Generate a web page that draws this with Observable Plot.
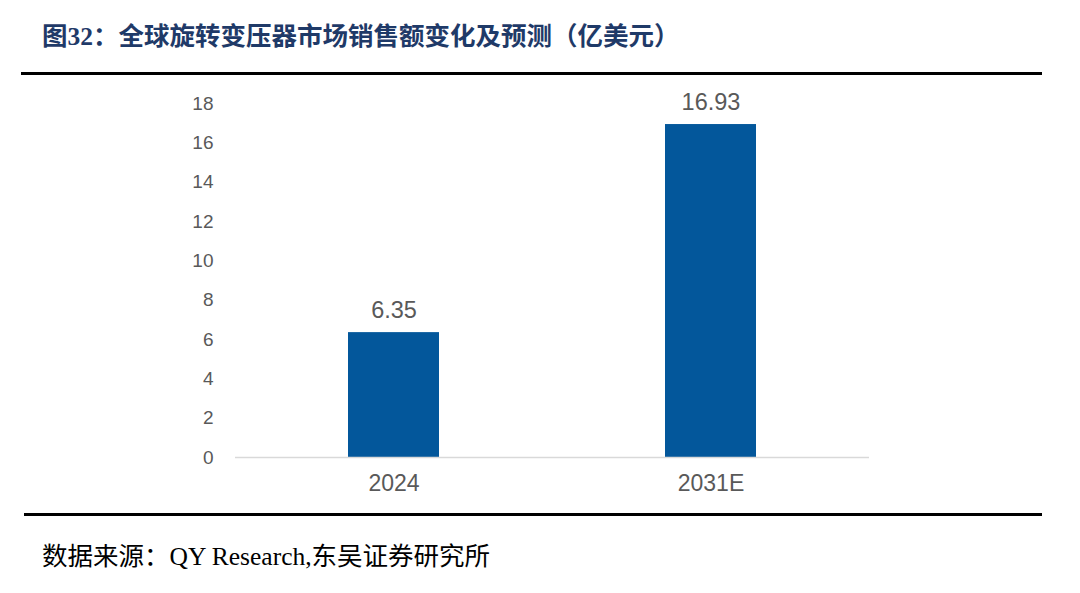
<!DOCTYPE html>
<html>
<head>
<meta charset="utf-8">
<script src="https://cdn.jsdelivr.net/npm/d3@7"></script>
<script src="https://cdn.jsdelivr.net/npm/@observablehq/plot@0.6"></script>
<style>
  html, body { margin: 0; padding: 0; background: #fff; }
  #page { position: relative; width: 1080px; height: 593px; overflow: hidden; background: #fff; }
  #title { position: absolute; left: 42px; top: 21px; font-family: "Liberation Serif", "Noto Sans CJK SC", serif; font-weight: bold; font-size: 25.5px; line-height: 32px; color: #1f3a68; white-space: nowrap; }
  .rule { position: absolute; height: 3px; background: #000; }
  #source { position: absolute; left: 42px; top: 540px; font-family: "Liberation Serif", "Noto Sans CJK SC", serif; font-size: 25.5px; line-height: 34px; color: #000; white-space: nowrap; }
  #chart { position: absolute; left: 0; top: 0; }
</style>
</head>
<body>
<div id="page">
  <div id="title">图32：全球旋转变压器市场销售额变化及预测（亿美元）</div>
  <div class="rule" style="left:21px; width:1021px; top:72px;"></div>
  <div id="chart"></div>
  <div class="rule" style="left:24px; width:1018px; top:513px;"></div>
  <div id="source">数据来源：QY Research,东吴证券研究所</div>
</div>
<script>
const categories = ["2024", "2031E"];
const values = [6.35, 16.93];
const yTicks = [0, 2, 4, 6, 8, 10, 12, 14, 16, 18];

const data = categories.map((c, i) => ({category: c, value: values[i]}));

const chart = Plot.plot({
  width: 1080,
  height: 593,
  marginTop: 103,
  marginBottom: 136,
  marginLeft: 235,
  marginRight: 211,
  style: {background: "transparent", fontFamily: "'Liberation Sans', Arial, sans-serif", color: "#595959"},
  x: {domain: categories, paddingInner: 0.713, paddingOuter: 0.3565, label: null},
  y: {domain: [0, 18], label: null},
  marks: [
    Plot.axisY({ticks: yTicks, tickSize: 0, tickPadding: 22, fontSize: 19, fill: "#595959", label: null}),
    Plot.axisX({tickSize: 0, tickPadding: 17, fontSize: 23, fill: "#595959", label: null}),
    Plot.barY(data, {x: "category", y: "value", fill: "#03579b"}),
    Plot.ruleY([0], {stroke: "#d9d9d9", strokeWidth: 1.5}),
    Plot.text(data, {x: "category", y: "value", text: d => d.value.toFixed(2), lineAnchor: "bottom", dy: -15, fontSize: 23.5, fill: "#595959"})
  ]
});
document.getElementById("chart").appendChild(chart);
</script>
</body>
</html>
